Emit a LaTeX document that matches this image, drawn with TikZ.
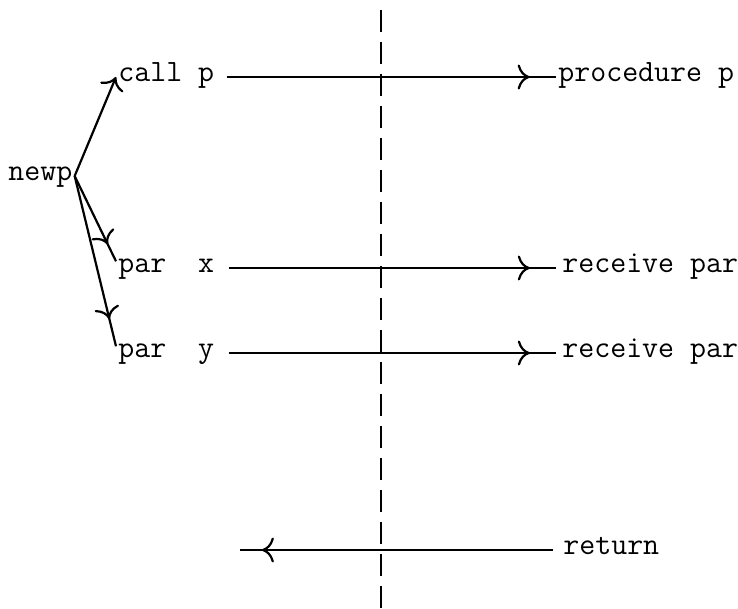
\documentclass[tikz,border=0pt]{standalone}
\usetikzlibrary{arrows.meta,decorations.markings}

\tikzset{
  lbl/.style={font=\fontsize{15.5}{18}\selectfont\ttfamily, inner sep=1pt, text height=1ex, text depth=0pt, anchor=west},
  conn/.style={line width=1.1pt, >={To[length=6pt,width=12.5pt]}},
  tipat/.style={postaction={decorate}, decoration={markings, mark=at position #1 with {\arrow{>}}}},
}

\begin{document}
\begin{tikzpicture}[x=0.5pt,y=-0.5pt]
  \useasboundingbox (0,0) rectangle (738,609);

  % left side
  \node[lbl] (newp) at (6,176) {newp};
  \node[lbl] (callp) at (116,77) {call p};
  \node[lbl] (parx) at (116,268) {par~~x};
  \node[lbl] (pary) at (116,353) {par~~y};

  % right side
  \node[lbl] (procp) at (556,77) {procedure p};
  \node[lbl] (recvx) at (560,268) {receive par};
  \node[lbl] (recvy) at (560,353) {receive par};
  \node[lbl] (ret) at (561,550) {return};
  \coordinate (retend) at (240,550);

  % boundary
  \draw[line width=1.1pt, dash pattern=on 11pt off 5pt] (381,10) -- (381,609);

  \draw[conn,->] (newp.east) -- (callp.west);
  \draw[conn,tipat=0.8] (newp.east) -- (parx.north west);
  \draw[conn,tipat=0.84] (newp.east) -- (pary.north west);

  \draw[conn,tipat=0.92] ([xshift=5pt]callp.east) -- (procp.west);
  \draw[conn,tipat=0.92] ([xshift=6pt]parx.east) -- ([xshift=-2pt]recvx.west);
  \draw[conn,tipat=0.92] ([xshift=6pt]pary.east) -- ([xshift=-2pt]recvy.west);
  \draw[conn,tipat=0.93] ([xshift=-4pt]ret.west) -- (retend);
\end{tikzpicture}
\end{document}
